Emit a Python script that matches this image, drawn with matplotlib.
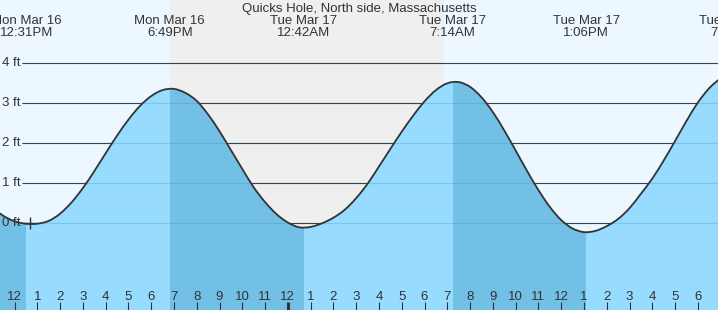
import numpy as np
import matplotlib.pyplot as plt
from matplotlib.patches import Rectangle, PathPatch
from matplotlib.path import Path

plt.rcParams['font.family'] = ['Liberation Sans', 'DejaVu Sans']

title = "Quicks Hole, North side, Massachusetts"

# tide height read every half hour, hours counted from Mon Mar 16 12:00PM
hours = np.arange(-1.0, 31.01, 0.5)
height_ft = [0.40, 0.19, 0.05, -0.01,
             -0.01, 0.06, 0.24, 0.52, 0.88, 1.30, 1.75, 2.19, 2.59, 2.93, 3.18, 3.33,
             3.36, 3.26, 3.06, 2.72, 2.30, 1.83, 1.36, 0.90, 0.53, 0.23, 0.02, -0.10,
             -0.09, 0.00, 0.14, 0.34, 0.63, 0.99, 1.42, 1.86, 2.29, 2.69, 3.05, 3.33,
             3.50, 3.53, 3.41, 3.15, 2.78, 2.32, 1.82, 1.31, 0.83, 0.41, 0.08, -0.13,
             -0.22, -0.19, -0.07, 0.11, 0.38, 0.74, 1.12, 1.57, 2.06, 2.56, 3.02, 3.38,
             3.63]

# high / low tide events
event_hours = [0.517, 6.817, 12.7, 19.233, 25.1, 31.53]
event_dates = ["Mon Mar 16", "Mon Mar 16", "Tue Mar 17", "Tue Mar 17", "Tue Mar 17", "Tue Mar 17"]
event_times = ["12:31PM", "6:49PM", "12:42AM", "7:14AM", "1:06PM", "7:32PM"]

# falling tide spans (darker water)
falling = [(-1.0, 0.517), (6.817, 12.7), (19.233, 25.1)]
# sunset -> sunrise
night = (6.83, 18.85)

levels = [0, 1, 2, 3, 4]
level_labels = ["0 ft", "1 ft", "2 ft", "3 ft", "4 ft"]

hour_ticks = list(range(0, 31))
hour_labels = ["12", "1", "2", "3", "4", "5", "6", "7", "8", "9", "10", "11",
               "12", "1", "2", "3", "4", "5", "6", "7", "8", "9", "10", "11",
               "12", "1", "2", "3", "4", "5", "6"]
now_hour = 0.68

# pixel layout of the picture
W, H = 718, 310
X0, PXH = 14.5, 22.78   # px of 12PM, px per hour
Y0, PXF = 223.3, 40.0   # px of 0 ft, px per foot
FS = 9.5


def fx(px):
    return (px - X0) / PXH


def fy(py):
    return (Y0 - py) / PXF


day_col = "#edf7ff"
night_col = "#efefef"
water = "#97dbfe"
water_dark = "#72c0e6"
ink = "#333333"

# smooth path through the readings (catmull-rom as bezier segments)
pts = np.column_stack([hours, height_ft])
ext = np.vstack([pts[0], pts, pts[-1]])
verts = [tuple(pts[0])]
codes = [Path.MOVETO]
for i in range(len(pts) - 1):
    p0, p1, p2, p3 = ext[i], ext[i + 1], ext[i + 2], ext[i + 3]
    verts += [tuple(p1 + (p2 - p0) / 6), tuple(p2 - (p3 - p1) / 6), tuple(p2)]
    codes += [Path.CURVE4] * 3
curve = Path(verts, codes)
water_path = Path(verts + [(hours[-1], -5), (hours[0], -5), (hours[0], height_ft[0])],
                  codes + [Path.LINETO, Path.LINETO, Path.CLOSEPOLY])

fig = plt.figure(figsize=(W / 100, H / 100), dpi=100, facecolor=day_col)
ax = fig.add_axes([0, 0, 1, 1])
ax.set_xlim(fx(0), fx(W))
ax.set_ylim(fy(H), fy(0))
ax.axis('off')

ax.axvspan(night[0], night[1], color=night_col, lw=0, zorder=0)

ax.hlines(levels, fx(22), fx(W), colors=ink, lw=0.8, zorder=1)

ax.add_patch(PathPatch(water_path, fc=water, lw=0, zorder=2))
for a, b in falling:
    p = ax.add_patch(PathPatch(water_path, fc=water_dark, lw=0, zorder=3))
    p.set_clip_path(Rectangle((a, -5), b - a, 12, transform=ax.transData))

ax.hlines(levels, fx(22), fx(W), colors=(0.2, 0.5, 0.7, 0.25), lw=0.8, zorder=4)

ax.add_patch(PathPatch(curve, fill=False, ec=ink, lw=1.3, zorder=5))

for lv, lab in zip(levels, level_labels):
    ax.text(fx(2), lv, lab, ha='left', va='center', fontsize=FS, color=ink, zorder=7)

ax.plot([now_hour], [0], marker='+', ms=8, mew=1.0, color=ink, zorder=6)

# hour ticks along the bottom
for t, lab in zip(hour_ticks, hour_labels):
    ax.vlines(t, fy(H), fy(302.3), colors=ink, lw=2.2 if t == 12 else 0.8, zorder=6)
    ax.text(t, fy(300), lab, ha='center', va='baseline', fontsize=FS, color=ink, zorder=7)

for t, d, tm in zip(event_hours, event_dates, event_times):
    ax.text(t, fy(24.3), d, ha='center', va='baseline', fontsize=FS, color=ink, zorder=7)
    ax.text(t, fy(36), tm, ha='center', va='baseline', fontsize=FS, color=ink, zorder=7)

ax.text(fx(359.5), fy(12.3), title, ha='center', va='baseline', fontsize=FS, color=ink, zorder=7)

fig.savefig("out.png", dpi=100, facecolor=day_col)
